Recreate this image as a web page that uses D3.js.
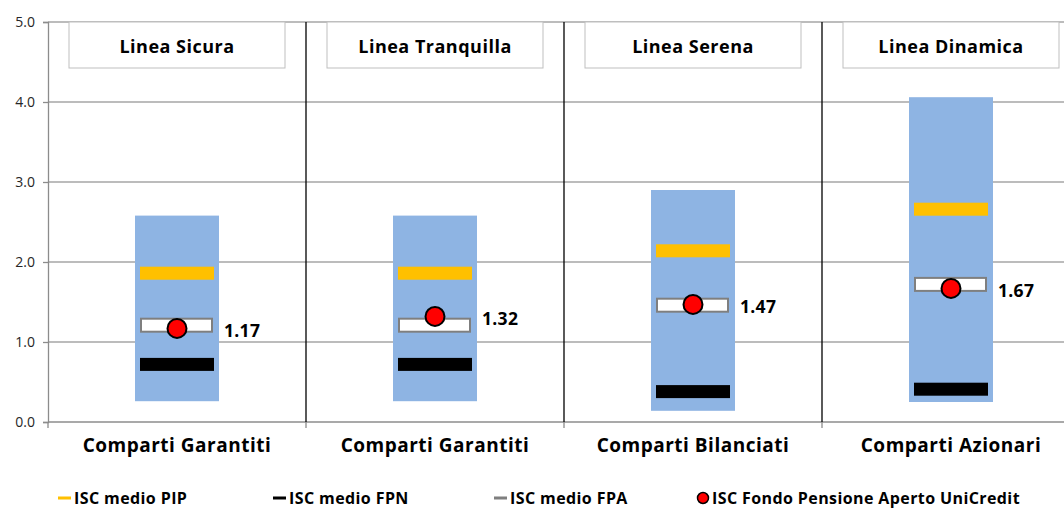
<!DOCTYPE html>
<html><head><meta charset="utf-8">
<script src="https://cdn.jsdelivr.net/npm/d3@7"></script>
<style>
html,body{margin:0;padding:0;background:#fff;}
svg{display:block;font-family:"Open Sans",sans-serif;}
</style></head>
<body>
<svg id="chart" width="1064" height="509"></svg>
<script>
const categories = ["Comparti Garantiti","Comparti Garantiti","Comparti Bilanciati","Comparti Azionari"];
const lineNames = ["Linea Sicura","Linea Tranquilla","Linea Serena","Linea Dinamica"];
const rangeMin = [0.26,0.26,0.14,0.25];
const rangeMax = [2.58,2.58,2.90,4.06];
const pip = [1.86,1.86,2.14,2.66];
const fpn = [0.72,0.72,0.38,0.41];
const fpa = [1.21,1.21,1.46,1.72];
const unicredit = [1.17,1.32,1.47,1.67];
const yTicks = [0,1,2,3,4,5];
const legendItems = ["ISC medio PIP","ISC medio FPN","ISC medio FPA","ISC Fondo Pensione Aperto UniCredit"];

(function(){
const svg = d3.select("#chart");
const left = 48, right = 1080, plotTop = 22, bottom = 422;
const idx = d3.range(categories.length);
const x = d3.scaleBand().domain(idx).range([left,right]).paddingInner(0).paddingOuter(0);
const y = d3.scaleLinear().domain([0,5]).range([bottom,plotTop]);
const cx = i => x(i) + x.bandwidth()/2;

// gridlines
svg.append("g").selectAll("line").data(yTicks.filter(d=>d>0)).join("line")
  .attr("x1",left).attr("x2",right).attr("y1",d=>y(d)).attr("y2",d=>y(d))
  .attr("stroke","#a6a6a6").attr("stroke-width",1.3);

// y axis
const yAxis = d3.axisLeft(y).tickValues(yTicks).tickFormat(d3.format(".1f")).tickSize(5).tickPadding(8);
const ya = svg.append("g").attr("transform",`translate(${left},0)`).call(yAxis);
ya.select(".domain").attr("stroke","#8c8c8c").attr("stroke-width",1.3);
ya.selectAll(".tick line").attr("stroke","#8c8c8c").attr("stroke-width",1.3);
ya.selectAll(".tick text").attr("font-size",14).attr("fill","#262626").attr("font-family","'Open Sans', sans-serif");

// x axis baseline
svg.append("line").attr("x1",left).attr("x2",right).attr("y1",bottom).attr("y2",bottom)
  .attr("stroke","#8c8c8c").attr("stroke-width",1.3);
// category separators
svg.append("g").selectAll("line").data(idx.slice(1)).join("line")
  .attr("x1",i=>x(i)).attr("x2",i=>x(i)).attr("y1",plotTop).attr("y2",bottom)
  .attr("stroke","#000").attr("stroke-width",1.3);
// bottom ticks
svg.append("g").selectAll("line").data(idx.concat([categories.length])).join("line")
  .attr("x1",i=>left+i*x.bandwidth()).attr("x2",i=>left+i*x.bandwidth()).attr("y1",bottom).attr("y2",bottom+6)
  .attr("stroke","#8c8c8c").attr("stroke-width",1.3);

// title boxes
const tb = svg.append("g");
tb.selectAll("rect").data(idx).join("rect")
  .attr("x",i=>cx(i)-108).attr("y",plotTop).attr("width",216).attr("height",46)
  .attr("fill","#fff").attr("stroke","#bfbfbf").attr("stroke-width",1);
tb.selectAll("text").data(idx).join("text")
  .attr("x",cx).attr("y",plotTop+31).attr("text-anchor","middle")
  .attr("font-size",18).attr("letter-spacing",0.5).attr("font-weight","bold").attr("fill","#000")
  .text(i=>lineNames[i]);

// range bars
svg.append("g").selectAll("rect").data(idx).join("rect")
  .attr("x",i=>cx(i)-42).attr("width",84)
  .attr("y",i=>y(rangeMax[i])).attr("height",i=>y(rangeMin[i])-y(rangeMax[i]))
  .attr("fill","#8eb4e3");

const mw = 74, mh = 13;
// PIP
svg.append("g").selectAll("rect").data(idx).join("rect")
  .attr("x",i=>cx(i)-mw/2).attr("width",mw)
  .attr("y",i=>y(pip[i])-mh/2).attr("height",mh).attr("fill","#ffc000");
// FPN
svg.append("g").selectAll("rect").data(idx).join("rect")
  .attr("x",i=>cx(i)-mw/2).attr("width",mw)
  .attr("y",i=>y(fpn[i])-mh/2).attr("height",mh).attr("fill","#000");
// FPA
svg.append("g").selectAll("rect").data(idx).join("rect")
  .attr("x",i=>cx(i)-mw/2+1).attr("width",mw-3)
  .attr("y",i=>y(fpa[i])-mh/2).attr("height",mh).attr("fill","#fff")
  .attr("stroke","#7f7f7f").attr("stroke-width",2);
// UniCredit
svg.append("g").selectAll("circle").data(idx).join("circle")
  .attr("cx",cx).attr("cy",i=>y(unicredit[i])).attr("r",9.5)
  .attr("fill","#ff0000").attr("stroke","#000").attr("stroke-width",2);
svg.append("g").selectAll("text").data(idx).join("text")
  .attr("x",i=>cx(i)+47).attr("y",i=>y(unicredit[i])+2).attr("dy","0.35em")
  .attr("font-size",17.5).attr("letter-spacing",0.3).attr("font-weight","bold").attr("fill","#000")
  .text(i=>unicredit[i].toFixed(2));

// category labels
svg.append("g").selectAll("text").data(idx).join("text")
  .attr("x",cx).attr("y",452).attr("text-anchor","middle")
  .attr("font-size",19).attr("letter-spacing",0.5).attr("font-weight","bold").attr("fill","#000")
  .text(i=>categories[i]);

// legend
const lg = svg.append("g").attr("font-size",16).attr("letter-spacing",0.4).attr("font-weight","bold");
const dashX = [58,273,494];
const textX = [74,289,510,712];
const ly = 498;
const dashColors = ["#ffc000","#000","#7f7f7f"];
lg.selectAll("rect").data(dashX).join("rect")
  .attr("x",d=>d).attr("y",ly-1.5).attr("width",13).attr("height",3).attr("fill",(d,i)=>dashColors[i]);
lg.append("circle").attr("cx",703).attr("cy",ly).attr("r",5.5).attr("fill","#ff0000").attr("stroke","#000").attr("stroke-width",1.5);
lg.selectAll("text").data(legendItems).join("text")
  .attr("x",(d,i)=>textX[i]).attr("y",ly+5.5).attr("fill","#000").text(d=>d);
})();
</script>
</body></html>
